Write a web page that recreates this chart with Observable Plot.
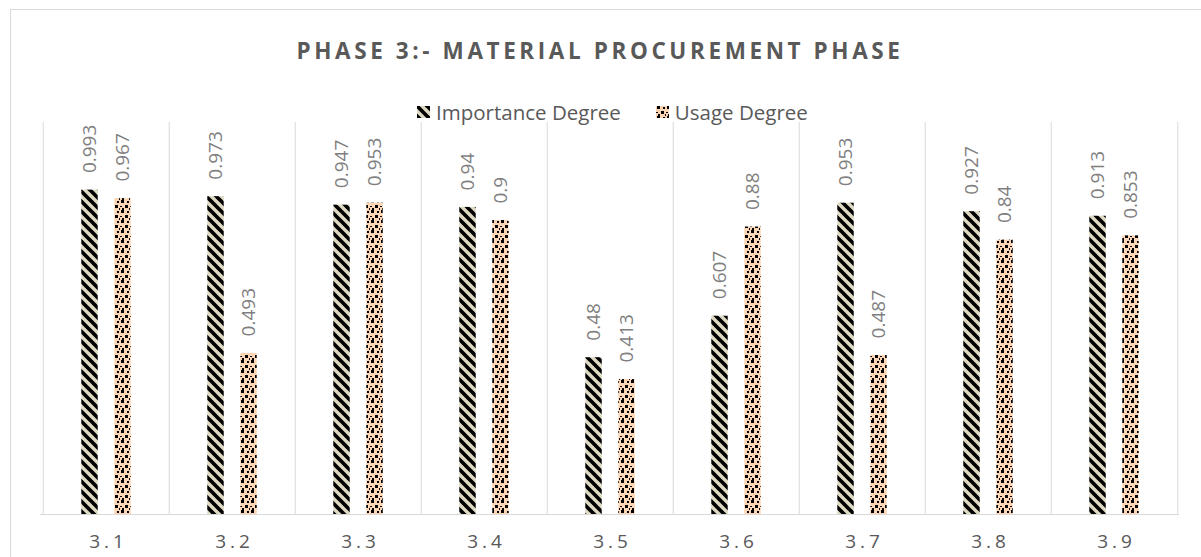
<!DOCTYPE html>
<html>
<head>
<meta charset="utf-8">
<script src="https://cdn.jsdelivr.net/npm/d3@7"></script>
<script src="https://cdn.jsdelivr.net/npm/@observablehq/plot@0.6"></script>
<style>
  body { margin: 0; background: #fff; font-family: "Open Sans", sans-serif; }
  #wrap { position: relative; width: 1201px; height: 557px; overflow: hidden; }
  #frame { position: absolute; left: 10px; top: 9px; width: 1260px; height: 620px;
           border: 1px solid #d9d9d9; box-sizing: border-box; }
  #chart { position: absolute; left: 0; top: 0; }
  #title { position: absolute; left: 10px; width: 1180px; top: 40px; text-align: center;
           font-weight: 700; font-size: 22.5px; line-height: 22px; letter-spacing: 3.6px; color: #595959; }
  #legend { position: absolute; left: 417px; top: 99px; display: flex; align-items: center;
            font-size: 20.5px; line-height: 26px; color: #595959; white-space: nowrap; }
  #legend .item { display: flex; align-items: center; margin-right: 35px; }
  #legend svg { margin-right: 6px; }
  #chart g[aria-label^="x-axis"] text { letter-spacing: 4px; }
</style>
</head>
<body>
<div id="wrap">
  <div id="frame"></div>
  <div id="chart"></div>
  <div id="title">PHASE 3:- MATERIAL PROCUREMENT PHASE</div>
  <div id="legend"></div>
</div>
<script>
// Activities of phase 3 and the two surveyed degrees for each
const categories = ["3.1", "3.2", "3.3", "3.4", "3.5", "3.6", "3.7", "3.8", "3.9"];
const importanceDegree = [0.993, 0.973, 0.947, 0.94, 0.48, 0.607, 0.953, 0.927, 0.913];
const usageDegree = [0.967, 0.493, 0.953, 0.9, 0.413, 0.88, 0.487, 0.84, 0.853];
const seriesNames = ["Importance Degree", "Usage Degree"];

const rows = categories.map((c, i) => ({cat: c, imp: importanceDegree[i], use: usageDegree[i]}));

const W = 1201, H = 557;
const mLeft = 40, mRight = 22, mTop = 122, mBottom = 43;
const band = (W - mLeft - mRight) / categories.length;
const barW = 17, off = 16.5;                 // bar width and distance of each bar centre from the band centre
const insetNear = band / 2 - off - barW / 2;  // inset on the side nearer the bar
const insetFar = band / 2 + off - barW / 2;   // inset on the opposite side
const grid = "#d9d9d9", labelColor = "#7f7f7f";

const plot = Plot.plot({
  width: W,
  height: H,
  marginLeft: mLeft,
  marginRight: mRight,
  marginTop: mTop,
  marginBottom: mBottom,
  style: {fontFamily: "Open Sans, sans-serif", fontSize: "19px", color: "#595959", background: "transparent", overflow: "visible"},
  x: {domain: categories, padding: 0, label: null, axis: null},
  y: {domain: [0, 1.2], axis: null},
  marks: [
    // vertical separators between the activities
    Plot.ruleX(categories, {x: d => d, dx: -band / 2, stroke: grid, strokeWidth: 1}),
    Plot.ruleX(categories.slice(-1), {x: d => d, dx: band / 2, stroke: grid, strokeWidth: 1}),
    Plot.barY(rows, {x: "cat", y: "imp", fill: "url(#pat-importance)", insetLeft: insetNear, insetRight: insetFar}),
    Plot.barY(rows, {x: "cat", y: "use", fill: "url(#pat-usage)", insetLeft: insetFar, insetRight: insetNear}),
    Plot.ruleY([0], {stroke: grid, strokeWidth: 1}),
    Plot.text(rows, {x: "cat", y: "imp", text: d => String(d.imp), dx: -off, dy: -17, rotate: -90,
                     textAnchor: "start", fill: labelColor, fontSize: 19}),
    Plot.text(rows, {x: "cat", y: "use", text: d => String(d.use), dx: off, dy: -17, rotate: -90,
                     textAnchor: "start", fill: labelColor, fontSize: 19}),
    Plot.axisX({tickSize: 0, tickPadding: 20, dx: 2, fontSize: 19, fill: "#595959", label: null})
  ]
});

// Fill patterns: wide downward diagonal on tan, large confetti on peach
const defs = d3.select(plot).insert("defs", ":first-child");
const p1 = defs.append("pattern").attr("id", "pat-importance").attr("patternUnits", "userSpaceOnUse")
  .attr("width", 10).attr("height", 10);
p1.append("rect").attr("width", 10).attr("height", 10).attr("fill", "#ddd9c3");
p1.append("path").attr("fill", "#000")
  .attr("d", "M0,0H2.6L10,7.4V10H7.4L0,2.6Z M7.4,0H10V2.6Z M0,7.4L2.6,10H0Z");

const p2 = defs.append("pattern").attr("id", "pat-usage").attr("patternUnits", "userSpaceOnUse")
  .attr("width", 10).attr("height", 10);
p2.append("rect").attr("width", 10).attr("height", 10).attr("fill", "#fcd5b4");
[[1, 0, 3, 3], [7, 1, 2, 2], [5, 5, 3, 3], [0, 6, 2, 1], [2, 8, 2, 2], [9, 8, 1, 2]]
  .forEach(([x, y, w, h]) => p2.append("rect").attr("x", x).attr("y", y).attr("width", w).attr("height", h)
    .attr("fill", "#000").attr("shape-rendering", "crispEdges"));

document.getElementById("chart").appendChild(plot);

// Legend
const legend = d3.select("#legend");
seriesNames.forEach((name, i) => {
  const item = legend.append("div").attr("class", "item");
  const sw = item.append("svg").attr("width", 13).attr("height", 12);
  sw.append("rect").attr("width", 13).attr("height", 12)
    .attr("fill", i === 0 ? "url(#pat-importance)" : "url(#pat-usage)");
  item.append("span").text(name);
});
</script>
</body>
</html>
